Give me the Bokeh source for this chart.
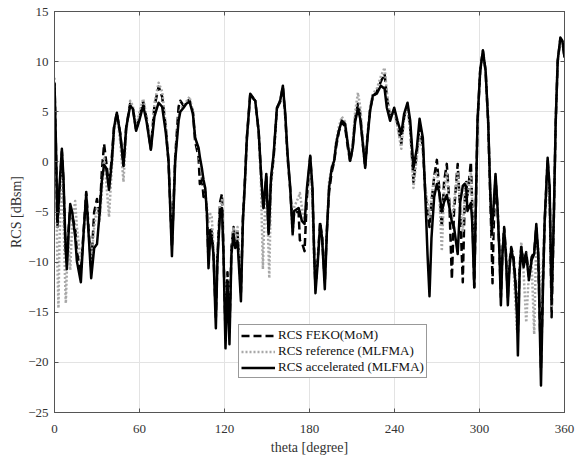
from bokeh.plotting import figure
from bokeh.models import LinearAxis, FixedTicker, Range1d, Legend, LegendItem
from bokeh.embed import file_html
from bokeh.resources import INLINE

theta = [0.0, 1.0, 2.0, 2.8, 3.5, 5.2, 6.3, 7.5, 8.0, 8.7, 9.8, 11.1, 12.5, 14.6, 15.8,
         18.6, 20.5, 22.4, 24.0, 25.9, 28.0, 30.0, 31.8, 33.4, 35.0, 36.5, 38.5, 40.5,
         42.0, 44.0, 46.4, 48.7, 50.6, 53.4, 55.3, 57.6, 60.0, 62.6, 65.0, 68.0, 70.5,
         73.5, 76.0, 78.5, 80.5, 82.9, 85.2, 87.6, 88.8, 91.1, 93.0, 95.3, 97.7, 99.3,
         101.7, 102.6, 104.0, 105.2, 106.4, 107.6, 108.7, 110.0, 111.0, 112.2, 113.9,
         115.0, 116.9, 118.2, 119.3, 120.7, 122.1, 123.5, 124.9, 126.4, 127.6, 129.2,
         131.6, 133.0, 134.2, 135.8, 138.2, 140.5, 141.7, 144.1, 145.7, 147.1, 147.6,
         149.5, 151.1, 151.6, 152.8, 154.7, 157.0, 159.3, 161.2, 162.9, 164.5, 166.4,
         168.1, 169.2, 172.3, 173.2, 174.6, 176.5, 178.2, 180.5, 182.1, 183.3, 184.2,
         185.9, 187.5, 188.9, 190.8, 192.2, 193.8, 195.7, 197.4, 198.8, 200.7, 202.8,
         205.1, 207.0, 208.7, 210.5, 212.2, 214.2, 215.8, 217.5, 219.3, 221.0, 222.8,
         224.7, 227.5, 230.3, 233.0, 234.6, 236.9, 239.8, 242.1, 244.8, 246.8, 249.2,
         251.1, 253.4, 255.8, 257.7, 260.0, 261.7, 263.3, 264.7, 266.1, 268.0, 269.9,
         271.5, 273.4, 275.0, 276.9, 278.7, 280.5, 282.0, 284.6, 286.4, 288.2, 289.5,
         290.6, 291.5, 293.9, 294.8, 296.3, 297.2, 298.6, 300.5, 302.4, 304.3, 306.1,
         307.5, 308.7, 309.2, 309.9, 311.3, 312.7, 314.1, 315.1, 316.2, 317.4, 318.6,
         320.0, 321.2, 322.4, 324.0, 325.2, 326.4, 327.1, 328.3, 329.5, 331.1, 333.0,
         334.9, 336.8, 338.6, 340.1, 341.5, 343.4, 344.8, 346.0, 348.1, 349.5, 350.9,
         352.4, 353.8, 355.2, 357.1, 358.5, 360.0]

rcs_accelerated = [7.9, 2.0, -6.0, -4.5, -2.5, 1.3, -1.5, -7.0, -9.0, -10.7, -7.5, -4.2, -5.0, -7.5, -9.9,
                   -12.0, -7.2, -3.2, -7.0, -11.6, -8.6, -8.2, -5.2, -1.9, -0.3, -0.6, -2.8, 0.1,
                   3.4, 4.9, 2.8, -0.4, 3.4, 5.6, 5.3, 3.1, 4.2, 5.6, 4.0, 1.2, 4.5,
                   5.9, 5.5, 3.0, 0.1, -9.4, 0.1, 4.1, 5.0, 5.4, 5.8, 6.0, 4.8, 2.4,
                   1.4, 0.5, -0.6, -1.8, -2.6, -5.2, -10.6, -7.2, -7.6, -9.2, -16.6,
                   -9.9, -4.9, -4.6, -9.2, -18.6, -11.9, -18.2, -9.2, -7.2, -8.6, -7.9,
                   -13.9, -5.9, -2.6, 2.4, 6.8, 6.3, 6.1, 3.1, -0.9, -4.0, -4.6,
                   -1.2, -7.2, -6.0, -1.6, 0.8, 5.4, 6.1, 7.6, 4.8, 0.8, -2.6,
                   -7.2, -4.9, -4.6, -5.0, -5.9, -6.2, -2.6, 0.6, -2.6, -9.2, -13.1,
                   -9.9, -6.2, -7.6, -12.7, -7.2, -2.6, -0.6, 0.1, 1.8, 3.1, 4.1,
                   3.8, 1.8, 0.1, 1.4, 4.0, 5.3, 4.3, 2.0, -0.6, 2.5, 5.1,
                   6.6, 6.8, 7.6, 7.3, 5.4, 4.1, 5.4, 4.1, 2.8, 4.8, 5.9,
                   4.1, -0.6, 1.4, 4.3, 2.4, -3.2, -9.2, -13.4, -7.6, -3.5, -2.2,
                   -3.0, -4.9, -4.0, -3.3, -4.5, -6.0, -6.5, -9.2, -4.0, -2.4, -2.2,
                   -2.5, -4.9, -4.1, -5.9, -12.5, -5.9, 4.1, 9.1, 11.1, 9.1, 4.1,
                   -2.5, -7.2, -6.0, -4.5, -1.2, -4.5, -9.2, -14.3, -9.2, -6.7, -9.2,
                   -14.3, -10.5, -8.7, -9.8, -11.8, -15.0, -19.3, -11.2, -8.5, -10.5, -9.2,
                   -11.8, -9.8, -9.2, -6.2, -9.2, -22.3, -12.5, -5.9, 0.4, -2.5, -14.2,
                   -5.9, 4.1, 10.1, 12.4, 12.1, 10.4]

rcs_feko = [7.9, 1.5, -6.5, -5.0, -3.0, 1.0, -2.0, -7.5, -9.0, -10.0, -7.0, -4.5, -5.5, -6.5, -9.0,
            -11.0, -7.0, -3.0, -6.5, -10.5, -5.0, -3.7, -5.5, -1.0, 1.8, 0.0, -2.5, 0.5,
            3.4, 4.9, 2.8, -0.4, 3.4, 5.8, 5.4, 3.2, 4.5, 6.0, 4.3, 1.3, 5.5,
            7.5, 6.5, 3.5, 0.0, -8.5, 0.5, 5.5, 6.1, 5.6, 6.0, 6.2, 5.0, 2.0,
            0.5, -2.2, -1.5, -3.5, -3.0, -5.0, -10.0, -6.5, -7.0, -9.0, -15.5,
            -9.5, -4.0, -3.2, -9.0, -17.0, -11.0, -17.0, -8.5, -6.5, -8.0, -7.0,
            -13.0, -5.5, -2.5, 2.4, 6.8, 6.3, 6.1, 3.0, -1.0, -4.2, -4.6,
            -1.5, -7.0, -6.0, -2.0, 0.5, 5.3, 6.0, 7.5, 4.5, 0.5, -2.8,
            -6.5, -5.0, -5.0, -7.8, -8.0, -8.9, -3.5, 0.5, -3.0, -9.0, -12.5,
            -9.5, -6.0, -7.5, -12.0, -7.0, -3.0, -1.0, 0.0, 1.5, 3.0, 4.0,
            3.5, 1.5, 0.0, 1.5, 4.3, 5.8, 4.8, 2.0, -0.5, 2.7, 5.3,
            6.5, 7.0, 8.0, 8.8, 6.5, 4.5, 5.2, 3.8, 1.8, 4.5, 5.5,
            3.5, -2.0, 1.0, 3.5, 1.5, -3.0, -5.0, -6.5, -4.0, -1.5, 0.2,
            -2.5, -6.5, -2.0, -0.2, -4.0, -11.7, -5.0, -0.2, -5.0, -12.0, -4.0,
            -2.0, -3.5, 0.0, -4.0, -12.5, -6.0, 4.0, 9.1, 11.1, 9.1, 4.0,
            -3.0, -9.0, -12.1, -7.0, -1.5, -4.5, -9.0, -13.5, -9.0, -6.5, -9.0,
            -13.5, -10.0, -8.5, -9.5, -11.5, -14.5, -17.0, -10.5, -8.5, -10.0, -9.0,
            -11.5, -9.5, -9.0, -6.5, -9.5, -20.5, -12.0, -6.0, 0.2, -3.0, -15.5,
            -6.0, 4.0, 10.0, 12.3, 12.0, 10.5]

rcs_reference = [8.4, 0.0, -10.0, -14.6, -8.0, -1.0, -5.0, -12.0, -14.1, -11.0, -8.0, -10.8, -6.0, -3.9, -6.5,
                 -10.0, -7.5, -3.8, -7.0, -10.0, -6.5, -4.5, -6.0, -3.0, 0.5, -2.0, -5.5, -0.5,
                 3.0, 4.8, 2.0, -2.0, 3.0, 6.1, 5.6, 3.4, 5.0, 6.3, 4.5, 1.3, 5.8,
                 7.9, 7.0, 3.8, 0.0, -8.0, 0.3, 4.5, 5.3, 5.6, 6.0, 6.5, 5.0, 2.5,
                 1.0, 0.0, -1.0, -2.0, -3.0, -4.5, -6.0, -5.2, -5.5, -8.5, -13.0,
                 -9.0, -4.5, -3.8, -10.0, -14.0, -12.0, -16.0, -9.0, -6.5, -8.0, -6.5,
                 -12.5, -6.0, -3.0, 2.0, 6.8, 6.3, 6.0, 3.0, -2.0, -10.7, -8.0,
                 -2.0, -9.0, -11.6, -2.5, 0.5, 5.3, 6.2, 7.3, 4.5, 0.5, -2.5,
                 -7.5, -4.5, -3.5, -3.1, -4.5, -6.0, -3.0, 0.0, -4.0, -10.0, -12.0,
                 -9.5, -6.5, -8.0, -12.0, -7.0, -2.0, -0.5, 0.3, 2.0, 3.5, 4.5,
                 4.0, 2.0, 0.3, 2.0, 5.0, 6.9, 5.5, 2.5, -0.5, 2.8, 5.5,
                 6.8, 7.3, 8.5, 9.4, 7.0, 4.5, 5.0, 3.5, 1.3, 4.5, 5.3,
                 3.0, -2.6, 0.5, 2.5, 1.0, -2.5, -4.0, -5.5, -3.5, -1.5, -1.0,
                 -3.0, -8.9, -3.0, -1.0, -4.5, -6.0, -4.0, -1.0, -4.5, -7.0, -3.0,
                 -2.0, -3.5, -1.0, -4.0, -11.0, -6.0, 4.0, 9.1, 11.0, 9.0, 4.0,
                 -2.5, -7.5, -6.5, -4.5, -1.5, -4.5, -8.5, -12.0, -9.0, -7.0, -9.5,
                 -12.5, -10.0, -9.0, -10.5, -13.7, -16.8, -14.0, -10.5, -8.0, -11.0, -16.0,
                 -11.0, -10.0, -17.2, -7.5, -8.5, -14.0, -10.0, -6.0, -1.5, -3.5, -14.5,
                 -6.0, 4.0, 10.0, 12.3, 12.0, 10.5]

x_ticks = [0, 60, 120, 180, 240, 300, 360]
y_ticks = [-25, -20, -15, -10, -5, 0, 5, 10, 15]
legend_labels = ["RCS FEKO(MoM)", "RCS reference (MLFMA)", "RCS accelerated (MLFMA)"]

FONT = "Liberation Serif"
AXIS_COLOR = "#555555"
TEXT_COLOR = "#333333"

p = figure(width=588, height=457, output_backend="svg", toolbar_location=None,
           x_range=Range1d(0, 360), y_range=Range1d(-25, 15),
           min_border_left=54, min_border_right=24, min_border_top=11, min_border_bottom=45,
           x_axis_label="theta [degree]", y_axis_label="RCS [dBsm]")

p.outline_line_color = AXIS_COLOR
p.outline_line_width = 1
p.background_fill_color = "white"
p.border_fill_color = "white"

for ax in (p.xaxis[0], p.yaxis[0]):
    ax.major_tick_in = 4
    ax.major_tick_out = 0
    ax.minor_tick_line_color = None
    ax.axis_line_color = AXIS_COLOR
    ax.major_tick_line_color = AXIS_COLOR
    ax.major_label_text_font = FONT
    ax.major_label_text_font_size = "13px"
    ax.major_label_text_color = TEXT_COLOR
    ax.axis_label_text_font = FONT
    ax.axis_label_text_font_size = "14px"
    ax.axis_label_text_font_style = "normal"
    ax.axis_label_text_color = TEXT_COLOR

p.xaxis[0].ticker = FixedTicker(ticks=x_ticks)
p.yaxis[0].ticker = FixedTicker(ticks=y_ticks)
p.xaxis[0].major_label_standoff = 12
p.xaxis[0].axis_label_standoff = 4
p.yaxis[0].major_label_standoff = 6
p.yaxis[0].axis_label_standoff = 1

for loc, tk in (("above", x_ticks), ("right", y_ticks)):
    a = LinearAxis(ticker=FixedTicker(ticks=tk))
    a.major_tick_in = 4
    a.major_tick_out = 0
    a.minor_tick_line_color = None
    a.axis_line_color = AXIS_COLOR
    a.major_tick_line_color = AXIS_COLOR
    a.major_label_text_font_size = "1px"
    a.major_label_text_color = None
    a.major_label_standoff = 0
    p.add_layout(a, loc)

p.xgrid.ticker = FixedTicker(ticks=x_ticks)
p.ygrid.ticker = FixedTicker(ticks=y_ticks)
p.grid.grid_line_color = "#e3e3e3"
p.grid.grid_line_width = 1

r1 = p.line(theta, rcs_feko, line_color="black", line_width=2.5, line_dash="8 4", line_join="round")
r2 = p.line(theta, rcs_reference, line_color="#a8a8a8", line_width=2.5, line_dash="2 2", line_join="round")
r3 = p.line(theta, rcs_accelerated, line_color="black", line_width=2.5, line_join="round")

legend = Legend(items=[LegendItem(label=legend_labels[0], renderers=[r1]),
                       LegendItem(label=legend_labels[1], renderers=[r2]),
                       LegendItem(label=legend_labels[2], renderers=[r3])],
                location=(184, 34))
legend.label_text_font = FONT
legend.label_text_font_size = "13px"
legend.label_text_color = "#111111"
legend.glyph_width = 34
legend.glyph_height = 15
legend.label_height = 15
legend.label_standoff = 3
legend.spacing = 0
legend.padding = 2
legend.margin = 0
legend.border_line_color = "#333333"
legend.border_line_width = 1
legend.background_fill_alpha = 1
p.add_layout(legend)

open("out.html", "w").write(file_html(p, INLINE))
